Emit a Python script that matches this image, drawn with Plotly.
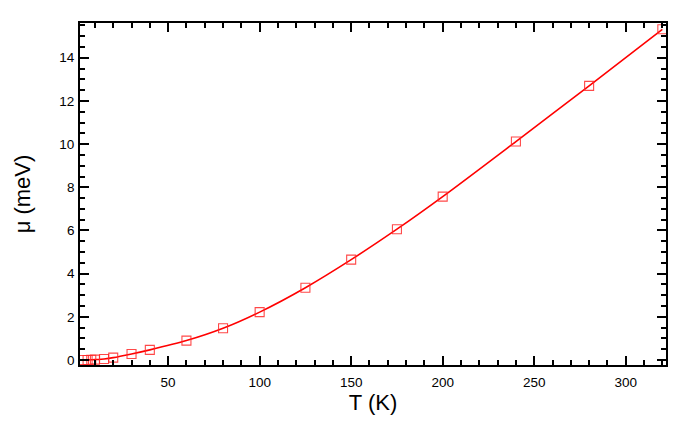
import plotly.graph_objects as go

T = [4, 6, 8, 10, 15, 20, 30, 40, 60, 80, 100, 125, 150, 175, 200, 240, 280, 320]
mu = [0.0, 0.005, 0.01, 0.02, 0.05, 0.11, 0.28, 0.47, 0.90, 1.47, 2.22, 3.35, 4.65, 6.06, 7.57, 10.12, 12.70, 15.32]

FONT = "Liberation Sans, Arial, sans-serif"

fig = go.Figure()
fig.add_trace(go.Scatter(
    x=T, y=mu, mode="lines",
    line=dict(color="#ff0000", width=1.6, shape="spline", smoothing=0.8),
    hoverinfo="skip", showlegend=False,
))
fig.add_trace(go.Scatter(
    x=T, y=mu, mode="markers",
    marker=dict(symbol="square-open", size=9, color="rgba(255,40,40,0.85)",
                line=dict(width=1.1, color="rgba(255,40,40,0.85)")),
    showlegend=False,
))

axis_common = dict(
    showline=True, linecolor="black", linewidth=1.8, mirror="allticks",
    ticks="inside", ticklen=9, tickwidth=1.5, tickcolor="black",
    showgrid=False, zeroline=False, automargin=False,
    tickfont=dict(family=FONT, size=13.5, color="black"),
)

fig.update_xaxes(
    range=[1.85, 322], tick0=0, dtick=50, ticklabelstandoff=4,
    minor=dict(dtick=10, ticks="inside", ticklen=5, tickwidth=1.5, tickcolor="black", showgrid=False),
    title=dict(text="T (K)", font=dict(family=FONT, size=22, color="black"), standoff=6),
    **axis_common,
)
fig.update_yaxes(
    range=[-0.23, 15.61], tick0=0, dtick=2, ticklabelstandoff=1,
    minor=dict(dtick=0.5, ticks="inside", ticklen=5, tickwidth=1.5, tickcolor="black", showgrid=False),
    title=dict(text="μ (meV)", font=dict(family=FONT, size=22, color="black"), standoff=23),
    **axis_common,
)

fig.update_layout(
    width=692, height=421,
    margin=dict(l=72, r=34, t=15, b=64),
    plot_bgcolor="white", paper_bgcolor="white",
)

fig.write_html("out.html")
